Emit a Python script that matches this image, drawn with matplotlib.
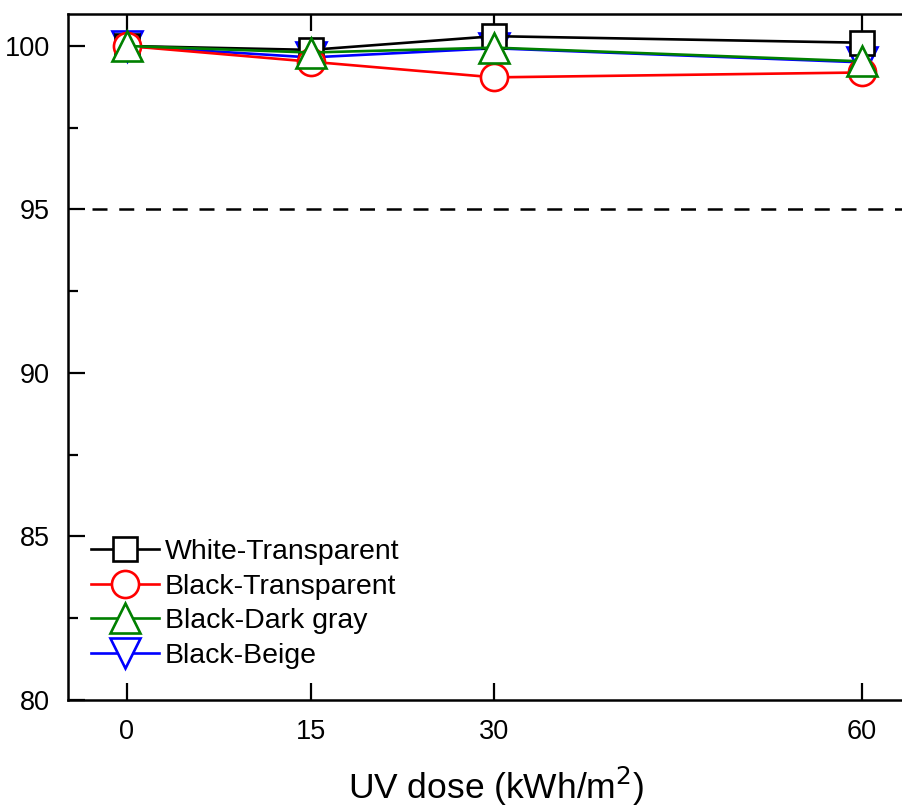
import matplotlib
matplotlib.use("Agg")
import matplotlib.pyplot as plt
from matplotlib.ticker import MultipleLocator

plt.rcParams["font.family"] = ["Liberation Sans", "DejaVu Sans"]

# UV dose values
dose = [0, 15, 30, 60]

white_transparent = [100.0, 99.88, 100.3, 100.1]
black_transparent = [100.0, 99.52, 99.04, 99.19]
black_dark_gray = [100.0, 99.8, 99.95, 99.53]
black_beige = [100.0, 99.65, 99.93, 99.5]

labels = ["White-Transparent", "Black-Transparent", "Black-Dark gray", "Black-Beige"]
threshold = 95

fig = plt.figure(figsize=(9.03, 8.10), dpi=100)
ax = fig.add_axes([0.0753, 0.1358, 0.947, 0.847])

lw = 1.9
l4, = ax.plot(dose, black_beige, color="blue", marker="v", ms=22,
              mfc="white", mec="blue", mew=lw, lw=lw, zorder=3)
l1, = ax.plot(dose, white_transparent, color="black", marker="s", ms=17,
              mfc="white", mec="black", mew=lw, lw=lw, zorder=4)
l2, = ax.plot(dose, black_transparent, color="red", marker="o", ms=19.5,
              mfc="white", mec="red", mew=lw, lw=lw, zorder=5)
l3, = ax.plot(dose, black_dark_gray, color="green", marker="^", ms=22,
              mfc="white", mec="green", mew=lw, lw=lw, zorder=6)

ax.hlines(threshold, -2.8, 66, color="black", linestyles=[(0, (6, 4.7))],
          linewidth=1.8)

ax.set_xlim(-4.8, 65)
ax.set_ylim(80, 100.98)
ax.set_xticks(dose)
ax.set_yticks([80, 85, 90, 95, 100])
ax.yaxis.set_minor_locator(MultipleLocator(2.5))

ax.tick_params(axis="y", which="major", direction="in", length=12, width=1.6,
               labelsize=19.5, pad=13)
ax.tick_params(axis="y", which="minor", direction="in", length=7, width=1.6)
ax.tick_params(axis="x", which="major", direction="in", length=12, width=1.6,
               labelsize=19.5, top=True, pad=14)
for s in ax.spines.values():
    s.set_linewidth(1.8)

ax.set_xlabel("UV dose (kWh/m$^2$)", fontsize=25.5, labelpad=14)

ax.legend([l1, l2, l3, l4], labels, loc="lower left", frameon=False,
          fontsize=20.5, handlelength=2.4, labelspacing=0.3,
          bbox_to_anchor=(0.0, 0.012), borderaxespad=0.4, handletextpad=0.2)

fig.savefig("out.png", dpi=100)
